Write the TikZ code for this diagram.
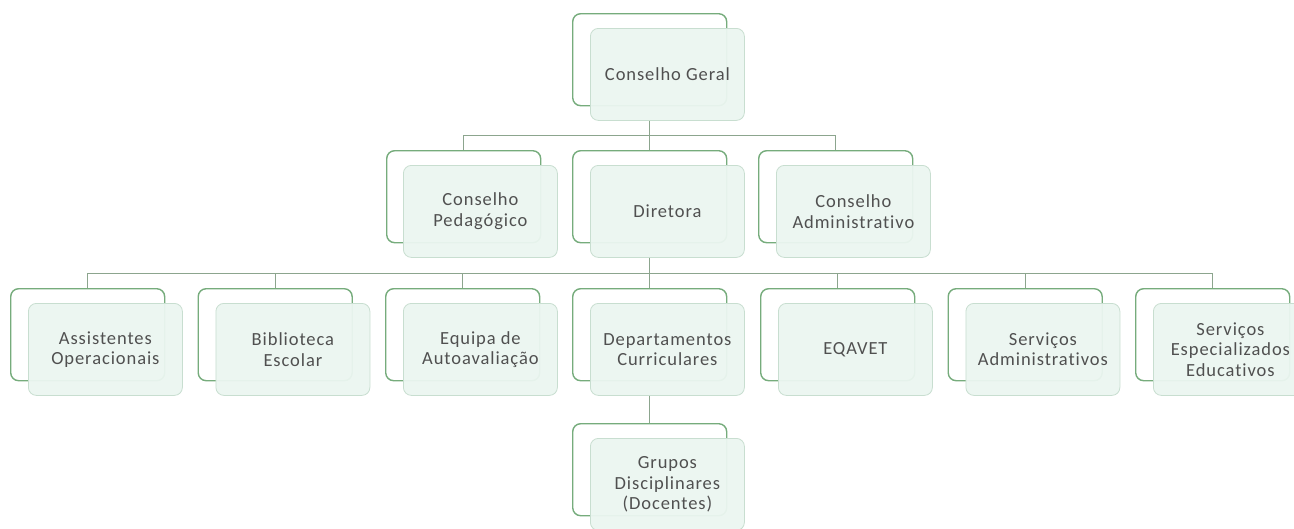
\documentclass[tikz,border=0pt]{standalone}
\usepackage{fontspec}
\setmainfont{Carlito}
\newfontfamily\boxfont[LetterSpace=5,Ligatures={NoCommon,NoContextual}]{Carlito}
\definecolor{backline}{RGB}{118,172,124}
\definecolor{frontfill}{RGB}{236,246,241}
\definecolor{frontline}{RGB}{200,222,208}
\definecolor{textcol}{RGB}{80,80,80}
\definecolor{conncol}{RGB}{140,165,142}
\tikzset{
  backbox/.style={draw=backline, line width=1.4pt, fill=white, rounded corners=8pt,
    minimum width=154pt, minimum height=92pt, inner sep=0pt, anchor=north west},
  frontbox/.style={draw=frontline, line width=0.8pt, fill=frontfill, fill opacity=0.95, text opacity=1,
    rounded corners=8pt, minimum width=154pt, minimum height=92pt, inner sep=0pt,
    anchor=north west, align=center, text=textcol, font=\boxfont\fontsize{18.5}{20.5}\selectfont},
  conn/.style={draw=conncol, line width=1pt}
}
\begin{document}
\begin{tikzpicture}[x=1pt,y=-1pt]
\useasboundingbox (0,0) rectangle (1294,528);
\fill[white] (0,0) rectangle (1294,528);
\clip (0,0) rectangle (1294,528);
% bus coordinates
\coordinate (bus1) at (651,135);
\coordinate (bus2) at (651,273);
% level 1
\node[backbox] (cgb) at (572,13) {};
% level 2
\node[backbox] (cpb) at (386,150) {};
\node[backbox] (dib) at (572,150) {};
\node[backbox] (cab) at (758,150) {};
% level 3
\node[backbox] (aob) at (10,288) {};
\node[backbox] (beb) at (197.5,288) {};
\node[backbox] (eab) at (385,288) {};
\node[backbox] (dcb) at (572,288) {};
\node[backbox] (eqb) at (760,288) {};
\node[backbox] (sab) at (947.5,288) {};
\node[backbox] (seb) at (1135,288) {};
% level 4
\node[backbox] (gdb) at (572,423) {};
% front boxes
\node[frontbox] (cg) at (590,28) {Conselho Geral};
\node[frontbox] (cp) at (403,165) {Conselho\\Pedagógico};
\node[frontbox] (di) at (590,165) {Diretora};
\node[frontbox] (ca) at (776,165) {Conselho\\Administrativo};
\node[frontbox] (ao) at (28,303) {Assistentes\\Operacionais};
\node[frontbox] (be) at (215.5,303) {Biblioteca\\Escolar};
\node[frontbox] (ea) at (403,303) {Equipa de\\Autoavaliação};
\node[frontbox] (dc) at (590,303) {Departamentos\\Curriculares};
\node[frontbox] (eq) at (778,303) {EQAVET};
\node[frontbox] (sa) at (965.5,303) {Serviços\\Administrativos};
\node[frontbox] (se) at (1153,303) {Serviços\\Especializados\\Educativos};
\node[frontbox] (gd) at (590,438) {Grupos\\Disciplinares\\(Docentes)};
% connectors
\draw[conn] (cgb.south |- cg.south) -- (cgb.south |- bus1);
\draw[conn] (cgb.south |- bus1) -| (cpb.north);
\draw[conn] (cgb.south |- bus1) -| (dib.north);
\draw[conn] (cgb.south |- bus1) -| (cab.north);
\draw[conn] (dib.south |- di.south) -- (dib.south |- bus2);
\foreach \c in {aob,beb,eab,dcb,eqb,sab,seb}{
  \draw[conn] (dib.south |- bus2) -| (\c.north);
}
\draw[conn] (dcb.south |- dc.south) -- (gdb.north);
\end{tikzpicture}
\end{document}
